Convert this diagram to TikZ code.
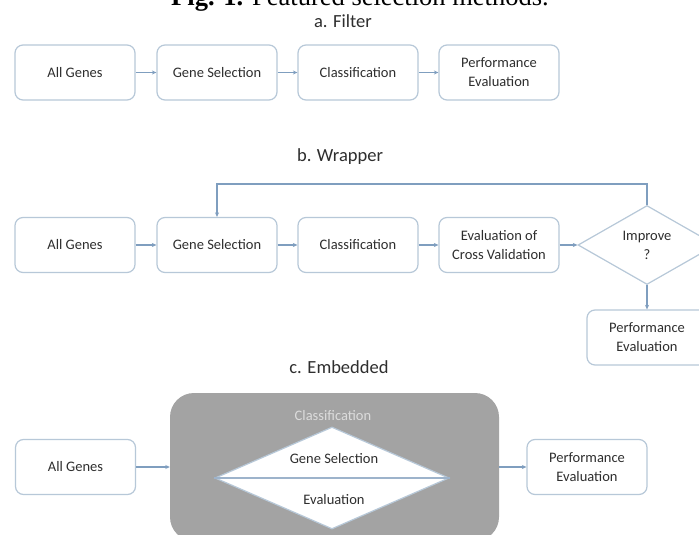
\documentclass[tikz,border=0pt]{standalone}
\usepackage{fontspec}
\setmainfont{Carlito}
\newfontfamily\titlefont{Liberation Serif}
\usetikzlibrary{shapes.geometric,arrows.meta}
\definecolor{boxc}{HTML}{B7C8D8}
\definecolor{arrc}{HTML}{7F9EBF}
\definecolor{txtc}{HTML}{2E2E2E}
\definecolor{greyc}{HTML}{A3A3A3}
\definecolor{lightc}{HTML}{DCDCDC}
\definecolor{midc}{HTML}{9DB3CB}
\begin{document}
\begin{tikzpicture}[x=1pt,y=1pt,
  stepbox/.style={draw=boxc, line width=1.2pt, rounded corners=8pt, fill=white,
    minimum width=120pt, minimum height=55pt, inner sep=0pt, align=center,
    text=txtc, font=\fontsize{14.5}{19}\selectfont},
  decide/.style={diamond, draw=boxc, line width=1.2pt, fill=white, aspect=1.75,
    inner sep=0pt, minimum width=138pt, minimum height=79pt, align=center,
    text=txtc, font=\fontsize{14.5}{19}\selectfont},
  conn/.style={draw=arrc, line width=1.1pt, -{Stealth[length=4.5pt,width=4pt]}},
  heading/.style={text=txtc, font=\fontsize{18.5}{22}\selectfont, anchor=base},
  lbl/.style={text=txtc, font=\fontsize{14.5}{19}\selectfont}
]
\useasboundingbox (0,0) rectangle (699,-535);
\fill[white] (0,0) rectangle (699,-535);
\node[anchor=base, inner sep=0pt, font=\titlefont\fontsize{26.5}{30}\selectfont] (title) at (360,-6) {\textbf{Fig. 1.} Featured selection methods.};

% a. Filter
\node[heading] (ha) at (343,-28) {a. Filter};
\node[stepbox] (a1) at (75,-72.5) {All Genes};
\node[stepbox] (a2) at (217,-72.5) {Gene Selection};
\node[stepbox] (a3) at (358,-72.5) {Classification};
\node[stepbox] (a4) at (499,-72.5) {Performance\\Evaluation};
\draw[conn] (a1) -- (a2);
\draw[conn] (a2) -- (a3);
\draw[conn] (a3) -- (a4);

% b. Wrapper
\node[heading] (hb) at (340,-161) {b. Wrapper};
\node[stepbox] (b1) at (75,-245) {All Genes};
\node[stepbox] (b2) at (217,-245) {Gene Selection};
\node[stepbox] (b3) at (358,-245) {Classification};
\node[stepbox] (b4) at (499,-245) {Evaluation of\\Cross Validation};
\node[decide] (b5) at (647,-245) {Improve\\?};
\node[stepbox] (b6) at (647,-337.5) {Performance\\Evaluation};
\coordinate (fb) at (0,-184);
\draw[conn] (b1) -- (b2);
\draw[conn] (b2) -- (b3);
\draw[conn] (b3) -- (b4);
\draw[conn] (b4) -- (b5);
\draw[conn] (b5.north) -- (b5.north |- fb) -| (b2.north);
\draw[conn] (b5.south) -- (b6.north);

% c. Embedded
\node[heading] (hc) at (339,-373) {c. Embedded};
\node[fill=greyc, rounded corners=24pt, minimum width=329pt, minimum height=148pt, inner sep=0pt] (grey) at (334.5,-467) {};
\node[lbl, text=lightc] (cls) at (333,-416) {Classification};
\node[diamond, draw=boxc, line width=1.2pt, fill=white, aspect=2.3, inner sep=0pt,
  minimum width=234pt, minimum height=102pt] (cd) at (332,-478) {};
\draw[draw=midc, line width=1.2pt] (cd.west) -- (cd.east);
\node[lbl] (gs) at (334,-459) {Gene Selection};
\node[lbl] (ev) at (334,-500) {Evaluation};
\node[stepbox] (c1) at (75.5,-467) {All Genes};
\node[stepbox] (c2) at (587,-467) {Performance\\Evaluation};
\draw[conn] (c1) -- (grey);
\draw[conn] (grey) -- (c2);
\end{tikzpicture}
\end{document}
